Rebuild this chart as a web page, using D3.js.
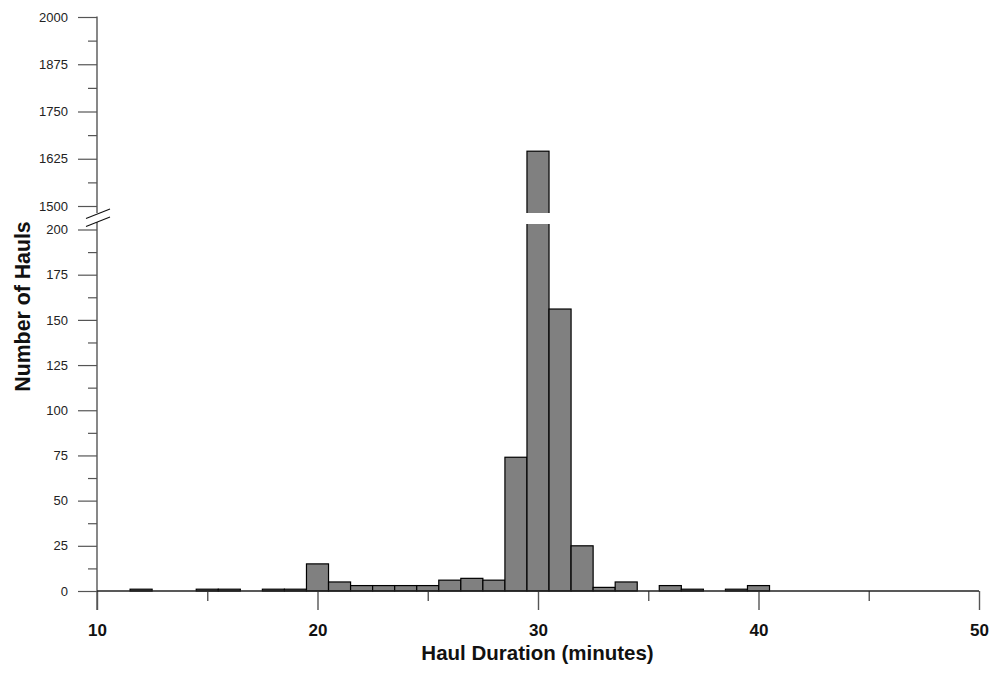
<!DOCTYPE html>
<html>
<head>
<meta charset="utf-8">
<script src="https://cdn.jsdelivr.net/npm/d3@7"></script>
<style>
  body { margin: 0; background: #fff; }
  svg { display: block; font-family: "Liberation Sans", Arial, sans-serif; }
</style>
</head>
<body>
<svg id="chart" width="1002" height="674"></svg>
<script>
// Haul duration (minutes) and number of hauls per 1-minute bin
const durations = [12, 13, 14, 15, 16, 17, 18, 19, 20, 21, 22, 23, 24, 25, 26, 27, 28, 29, 30, 31, 32, 33, 34, 35, 36, 37, 38, 39, 40];
const hauls     = [ 1,  0,  0,  1,  1,  0,  1,  1, 15,  5,  3,  3,  3,  3,  6,  7,  6, 74, 1645, 156, 25, 2, 5, 0, 3, 1, 0, 1, 3];

const xTicks = [10, 20, 30, 40, 50];
const xMinorTicks = [15, 25, 35, 45];
const yLowTicks = [0, 25, 50, 75, 100, 125, 150, 175, 200];
const yLowMinor = [12.5, 37.5, 62.5, 87.5, 112.5, 137.5, 162.5, 187.5];
const yHighTicks = [1500, 1625, 1750, 1875, 2000];
const yHighMinor = [1562.5, 1687.5, 1812.5, 1937.5];

const svg = d3.select("#chart");
const axisColor = "#555";

const x = d3.scaleLinear().domain([10, 50]).range([97, 979]);
const yLow = d3.scaleLinear().domain([0, 200]).range([591, 229.5]);
const yHigh = d3.scaleLinear().domain([1500, 2000]).range([206, 17]);

const lowCut = 224;   // top edge of the lower panel
const highCut = 213;  // bottom edge of the upper panel

const defs = svg.append("defs");
defs.append("clipPath").attr("id", "clipLow")
  .append("rect").attr("x", 0).attr("y", lowCut).attr("width", 1002).attr("height", 674 - lowCut);
defs.append("clipPath").attr("id", "clipHigh")
  .append("rect").attr("x", 0).attr("y", 0).attr("width", 1002).attr("height", highCut);

const bins = durations.map((d, i) => ({ d, v: hauls[i] }));
const bw = x(1) - x(0);

// lower panel bars
svg.append("g").attr("clip-path", "url(#clipLow)")
  .selectAll("rect").data(bins).join("rect")
  .attr("x", b => x(b.d - 0.5))
  .attr("width", bw)
  .attr("y", b => b.v > 200 ? lowCut - 5 : yLow(b.v))
  .attr("height", b => yLow(0) - (b.v > 200 ? lowCut - 5 : yLow(b.v)))
  .attr("fill", "#808080").attr("stroke", "#000").attr("stroke-width", 1.2);

// upper panel bars (only bins that exceed the break)
svg.append("g").attr("clip-path", "url(#clipHigh)")
  .selectAll("rect").data(bins.filter(b => b.v > 200)).join("rect")
  .attr("x", b => x(b.d - 0.5))
  .attr("width", bw)
  .attr("y", b => yHigh(b.v))
  .attr("height", b => highCut + 5 - yHigh(b.v))
  .attr("fill", "#808080").attr("stroke", "#000").attr("stroke-width", 1.2);

// y axis segment with major/minor ticks
function yAxisPart(scale, major, minor, y0, y1) {
  const g = svg.append("g").attr("transform", `translate(${x(10)},0)`);
  g.append("g").call(d3.axisLeft(scale).tickValues(major).tickSize(19).tickPadding(10).tickFormat(d3.format("d")))
    .call(a => a.select(".domain").remove())
    .call(a => a.selectAll("line").attr("stroke", axisColor).attr("stroke-width", 1.2))
    .call(a => a.selectAll("text").attr("fill", "#222").attr("font-size", 13)
      .attr("font-family", "'Liberation Sans', Arial, sans-serif"));
  g.append("g").call(d3.axisLeft(scale).tickValues(minor).tickSize(9).tickFormat(""))
    .call(a => a.select(".domain").remove())
    .call(a => a.selectAll("line").attr("stroke", axisColor).attr("stroke-width", 1.2));
  g.append("line").attr("x1", 0).attr("x2", 0).attr("y1", y0).attr("y2", y1)
    .attr("stroke", axisColor).attr("stroke-width", 1.4);
}
yAxisPart(yLow, yLowTicks, yLowMinor, 222, 610);
yAxisPart(yHigh, yHighTicks, yHighMinor, 16.5, 213);

// break marks
const brk = svg.append("g").attr("stroke", "#111").attr("stroke-width", 1.1);
brk.append("line").attr("x1", 86).attr("y1", 218.5).attr("x2", 110).attr("y2", 209);
brk.append("line").attr("x1", 86).attr("y1", 226.5).attr("x2", 110).attr("y2", 217);

// x axis
const xg = svg.append("g").attr("transform", `translate(0,${yLow(0)})`);
xg.append("g").call(d3.axisBottom(x).tickValues(xTicks).tickSize(19).tickPadding(14).tickFormat(d3.format("d")))
  .call(a => a.select(".domain").remove())
  .call(a => a.selectAll("line").attr("stroke", axisColor).attr("stroke-width", 1.4))
  .call(a => a.selectAll("text").attr("fill", "#111").attr("font-size", 17).attr("font-weight", "bold")
    .attr("font-family", "'Liberation Sans', Arial, sans-serif"));
xg.append("g").call(d3.axisBottom(x).tickValues(xMinorTicks).tickSize(10).tickFormat(""))
  .call(a => a.select(".domain").remove())
  .call(a => a.selectAll("line").attr("stroke", axisColor).attr("stroke-width", 1.4));
xg.append("line").attr("x1", x(10)).attr("x2", x(50)).attr("y1", 0).attr("y2", 0)
  .attr("stroke", "#222").attr("stroke-width", 1.4);

// axis titles
svg.append("text").attr("x", 537.5).attr("y", 660)
  .attr("text-anchor", "middle").attr("font-size", 20.5).attr("font-weight", "bold").attr("fill", "#111")
  .text("Haul Duration (minutes)");
svg.append("text").attr("transform", "translate(30,306.5) rotate(-90)")
  .attr("text-anchor", "middle").attr("font-size", 21.3).attr("font-weight", "bold").attr("fill", "#111")
  .text("Number of Hauls");
</script>
</body>
</html>
